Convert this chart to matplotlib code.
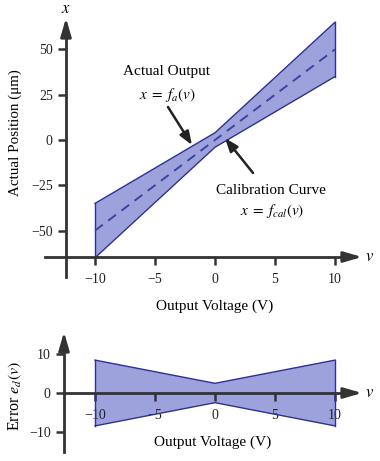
import matplotlib
matplotlib.use("Agg")
import matplotlib.pyplot as plt
import numpy as np

plt.rcParams['font.family'] = ['Liberation Serif', 'DejaVu Serif']
plt.rcParams['mathtext.fontset'] = 'stix'

# Data
v_pts = [-10, 0, 10]
upper_out = [-35, 4, 65]
lower_out = [-65, -4, 35]
cal_v = [-10, 10]
cal_x = [-50, 50]
err_upper = [8.5, 2.5, 8.5]
err_lower = [-8.5, -2.5, -8.5]
xticks = [-10, -5, 0, 5, 10]
yticks_top = [-50, -25, 0, 25, 50]
yticks_bot = [-10, 0, 10]

FACE = '#9ea2dc'
EDGE = '#2e3192'
DASH = '#3e42a2'
AX = '#333333'

W, H = 380, 461
fig = plt.figure(figsize=(W/100, H/100), dpi=100)

def px_axes(x0, x1, y0, y1):
    return fig.add_axes([x0/W, 1 - y1/H, (x1-x0)/W, (y1-y0)/H])

X0 = 215.0
SX = 12.0
xl = ((40-X0)/SX, (375-X0)/SX)

def style(ax, vx, hy, vb, hb, vtip, htip, xpad):
    for s in ['top', 'right']:
        ax.spines[s].set_visible(False)
    ax.spines['left'].set_position(('data', vx))
    ax.spines['bottom'].set_position(('data', hy))
    ax.spines['left'].set_bounds(*vb)
    ax.spines['bottom'].set_bounds(*hb)
    for s in ['left', 'bottom']:
        ax.spines[s].set_color(AX)
        ax.spines[s].set_linewidth(2.0)
    ax.tick_params(axis='both', direction='out', length=5.5, width=1.8,
                   color=AX, labelsize=10, labelcolor='#222222')
    ax.tick_params(axis='x', pad=xpad)
    ax.tick_params(axis='y', pad=4)
    ap = dict(arrowstyle='-|>,head_length=1.1,head_width=0.32', color=AX,
              lw=2.0, shrinkA=0, shrinkB=0)
    ax.annotate('', xy=vtip, xytext=(vx, vb[1]), arrowprops=ap)
    ax.annotate('', xy=htip, xytext=(hb[1], hy), arrowprops=ap)

def draw_band(ax, lo, hi):
    ax.fill_between(v_pts, lo, hi, facecolor=FACE, edgecolor='none', zorder=1)
    ax.plot(v_pts, hi, color=EDGE, lw=1.0, zorder=2)
    ax.plot(v_pts, lo, color=EDGE, lw=1.0, zorder=2)
    ax.plot([v_pts[0], v_pts[0]], [lo[0], hi[0]], color=EDGE, lw=1.0, zorder=2)
    ax.plot([v_pts[-1], v_pts[-1]], [lo[-1], hi[-1]], color=EDGE, lw=1.0, zorder=2)

# ---- Top plot ----
Y0t, SYt = 140.0, 1.812
ax1 = px_axes(40, 375, 10, 285)
ax1.set_xlim(*xl)
ax1.set_ylim((Y0t-285)/SYt, (Y0t-10)/SYt)
draw_band(ax1, lower_out, upper_out)
ax1.plot(cal_v, cal_x, color=DASH, lw=1.4, dashes=(5, 3.5), zorder=3)
vx1 = (66-X0)/SX
hy1 = (Y0t-257)/SYt
style(ax1, vx1, hy1, (-75.6, 58), ((45-X0)/SX, (350-X0)/SX),
      (vx1, (Y0t-18)/SYt), ((362-X0)/SX, hy1), 6)
ax1.set_xticks(xticks)
ax1.set_yticks(yticks_top)
ax1.text(vx1, (Y0t-9)/SYt, '$x$', ha='center', va='center', fontsize=12)
ax1.text((365-X0)/SX, hy1, '$v$', ha='left', va='center', fontsize=12)
fig.text(15/W, 1-133/H, 'Actual Position (μm)', rotation=90, ha='center',
         va='center', fontsize=10.8)
ax1.text(0, (Y0t-306)/SYt, 'Output Voltage (V)', ha='center', va='center', fontsize=11)

aap = dict(arrowstyle='-|>,head_length=0.8,head_width=0.3', color='#222222',
           lw=1.8, shrinkA=0, shrinkB=0)
ax1.annotate('', xy=((192-X0)/SX, -2.8), xytext=((168-X0)/SX, 18.2), arrowprops=aap)
ax1.annotate('', xy=((225-X0)/SX, 1.1), xytext=((253-X0)/SX, -18.2), arrowprops=aap)
ax1.text((167-X0)/SX, (Y0t-72)/SYt, 'Actual Output', ha='center', va='center', fontsize=11)
ax1.text((167-X0)/SX, (Y0t-95)/SYt, '$x\\;=\\;f_a(v)$', ha='center', va='center', fontsize=11)
ax1.text((271-X0)/SX, (Y0t-191)/SYt, 'Calibration Curve', ha='center', va='center', fontsize=11)
ax1.text((272-X0)/SX, (Y0t-211)/SYt, '$x\\;=\\;f_{cal}(v)$', ha='center', va='center', fontsize=11)

# ---- Bottom plot ----
Y0b, SYb = 393.0, 3.87
ax2 = px_axes(40, 375, 325, 461)
ax2.set_xlim(*xl)
ax2.set_ylim((Y0b-461)/SYb, (Y0b-325)/SYb)
draw_band(ax2, err_lower, err_upper)
vx2 = (64-X0)/SX
hy2 = 0
style(ax2, vx2, hy2, ((Y0b-452)/SYb, 12.5), (vx2, (350-X0)/SX),
      (vx2, (Y0b-332)/SYb), ((362-X0)/SX, hy2), 6)
ax2.set_xticks(xticks)
ax2.set_yticks(yticks_bot)
for t in ax2.get_xticklabels():
    t.set_zorder(5)
ax2.text((365-X0)/SX, 0, '$v$', ha='left', va='center', fontsize=12)
fig.text(15/W, 1-396/H, 'Error $e_d(v)$', rotation=90, ha='center', va='center', fontsize=11.5)
ax2.text((213-X0)/SX, (Y0b-442)/SYb, 'Output Voltage (V)', ha='center', va='center', fontsize=11)

fig.savefig('out.png', dpi=100)
